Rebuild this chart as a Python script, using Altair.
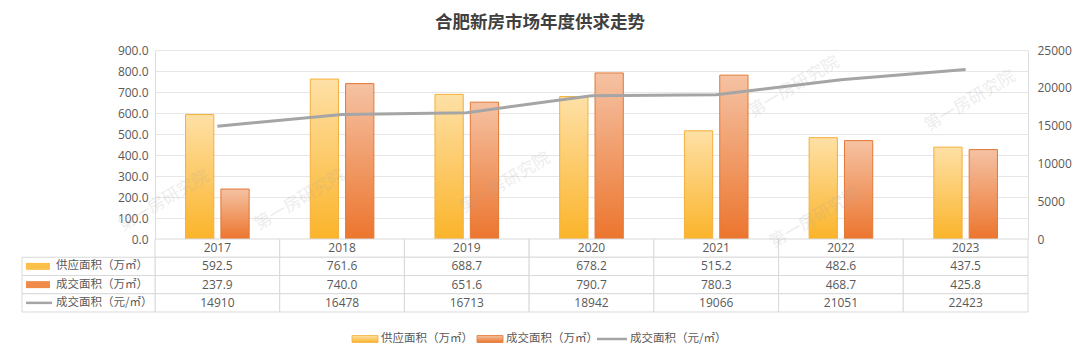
import altair as alt
import pandas as pd

# ---------------- data ----------------
years = ["2017", "2018", "2019", "2020", "2021", "2022", "2023"]
supply = [592.5, 761.6, 688.7, 678.2, 515.2, 482.6, 437.5]
deal = [237.9, 740.0, 651.6, 790.7, 780.3, 468.7, 425.8]
price = [14910, 16478, 16713, 18942, 19066, 21051, 22423]
series = ["供应面积（万㎡）", "成交面积（万㎡）", "成交面积（元/㎡）"]
title_text = "合肥新房市场年度供求走势"
watermark_text = "第一房研究院"
left_ticks = [0, 100, 200, 300, 400, 500, 600, 700, 800, 900]
right_ticks = [0, 5000, 10000, 15000, 20000, 25000]

# ---------------- style ----------------
W, H = 873, 189
FONT = "Open Sans, Noto Sans CJK SC"
CJK = "Noto Sans CJK SC"
TXT = "#595959"
BORDER = "#D9D9D9"
LINE_C = "#A5A5A5"

grad_supply = alt.LinearGradient(
    gradient="linear", x1=0, y1=0, x2=0, y2=1,
    stops=[alt.GradientStop(color="#FEE0A6", offset=0),
           alt.GradientStop(color="#FBB42A", offset=1)])
grad_deal = alt.LinearGradient(
    gradient="linear", x1=0, y1=0, x2=0, y2=1,
    stops=[alt.GradientStop(color="#F5C2A3", offset=0),
           alt.GradientStop(color="#EC752E", offset=1)])

# ---------------- bars ----------------
supply_df = pd.DataFrame({"year": years, "series": series[0], "value": supply})
deal_df = pd.DataFrame({"year": years, "series": series[1], "value": deal})

x_bar = alt.X("year:N", sort=years, axis=None,
              scale=alt.Scale(domain=years, paddingInner=0.49, paddingOuter=0.245))
xoff = alt.XOffset("series:N", sort=series[:2],
                   scale=alt.Scale(domain=series[:2], paddingInner=0.2))
y_axis = alt.Axis(values=left_ticks, format=".1f", orient="left", grid=True,
                  gridColor="#E6E6E6", domain=False, ticks=False, labelPadding=7,
                  labelColor=TXT, labelFontSize=12, labelFont=FONT, title=None)
y_bar = alt.Y("value:Q", scale=alt.Scale(domain=[0, 900], nice=False), axis=y_axis)

bar_supply = alt.Chart(supply_df).mark_bar(
    fill=grad_supply, stroke="#F3B03C", strokeWidth=1).encode(x=x_bar, xOffset=xoff, y=y_bar)
bar_deal = alt.Chart(deal_df).mark_bar(
    fill=grad_deal, stroke="#E27936", strokeWidth=1).encode(x=x_bar, xOffset=xoff, y=y_bar)
bars = alt.layer(bar_supply, bar_deal)

# ---------------- line ----------------
line_df = pd.DataFrame({"year": years, "price": price})
line = alt.Chart(line_df).mark_line(color=LINE_C, strokeWidth=3).encode(
    x=alt.X("year:N", sort=years, axis=None,
            scale=alt.Scale(type="point", domain=years, padding=0.5)),
    y=alt.Y("price:Q", scale=alt.Scale(domain=[0, 25000], nice=False),
            axis=alt.Axis(orient="right", values=right_ticks, format="d", grid=False,
                          domain=False, ticks=False, labelPadding=9, labelColor=TXT,
                          labelFontSize=12, labelFont=FONT, title=None)))

# ---------------- data table ----------------
rows = ["年份"] + series
cells = []
for i, yr in enumerate(years):
    cells.append({"row": rows[0], "year": yr, "txt": yr})
    cells.append({"row": rows[1], "year": yr, "txt": f"{supply[i]:.1f}"})
    cells.append({"row": rows[2], "year": yr, "txt": f"{deal[i]:.1f}"})
    cells.append({"row": rows[3], "year": yr, "txt": f"{price[i]:d}"})
cells_df = pd.DataFrame(cells)

tx = alt.X("year:N", sort=years, axis=None,
           scale=alt.Scale(domain=years, paddingInner=0, paddingOuter=0))
ty = alt.Y("row:N", sort=rows, axis=None,
           scale=alt.Scale(domain=rows, range=[189, 262], paddingInner=0, paddingOuter=0))
tx_c = alt.X("year:N", sort=years, axis=None, bandPosition=0.5,
             scale=alt.Scale(domain=years, paddingInner=0, paddingOuter=0))
ty_c = alt.Y("row:N", sort=rows, axis=None, bandPosition=0.5,
             scale=alt.Scale(domain=rows, range=[189, 262], paddingInner=0, paddingOuter=0))

cell_rect = alt.Chart(cells_df).mark_rect(fill="white", stroke=BORDER, strokeWidth=1).encode(x=tx, y=ty)
cell_text = alt.Chart(cells_df).mark_text(font=FONT, fontSize=12, color=TXT, baseline="middle").encode(
    x=tx_c, y=ty_c, text="txt:N")

label_df = pd.DataFrame({"row": series})
label_rect = alt.Chart(label_df).mark_rect(fill="white", stroke=BORDER, strokeWidth=1).encode(
    x=alt.value(-133), x2=alt.value(0), y=ty)
label_text = alt.Chart(label_df).mark_text(font=CJK, fontSize=11.5, color=TXT, align="left",
                                           baseline="middle").encode(
    x=alt.value(-99), y=ty_c, text="row:N")
sym1 = alt.Chart(pd.DataFrame({"row": [series[0]]})).mark_rule(
    color="#FCBF4A", strokeWidth=7, strokeCap="butt").encode(
    x=alt.value(-129), x2=alt.value(-105), y=ty_c)
sym2 = alt.Chart(pd.DataFrame({"row": [series[1]]})).mark_rule(
    color="#EF8A48", strokeWidth=7, strokeCap="butt").encode(
    x=alt.value(-129), x2=alt.value(-105), y=ty_c)
sym3 = alt.Chart(pd.DataFrame({"row": [series[2]]})).mark_rule(
    color=LINE_C, strokeWidth=2.5, strokeCap="butt").encode(
    x=alt.value(-129), x2=alt.value(-103), y=ty_c)

table = alt.layer(cell_rect, cell_text, label_rect, label_text, sym1, sym2, sym3)

# ---------------- legend ----------------
LY = 289
leg_layers = []
leg_pos = [(197, 223, 226), (322, 348, 351), (442, 472, 475)]
for i, (a, b, t) in enumerate(leg_pos):
    d = pd.DataFrame({"label": [series[i]]})
    if i < 2:
        sym = alt.Chart(d).mark_rect(fill=[grad_supply, grad_deal][i],
                                     stroke=["#F3B03C", "#E27936"][i], strokeWidth=0.8).encode(
            x=alt.value(a), x2=alt.value(b), y=alt.value(LY - 3.5), y2=alt.value(LY + 3.5))
    else:
        sym = alt.Chart(d).mark_rule(color=LINE_C, strokeWidth=2.5).encode(
            x=alt.value(a), x2=alt.value(b), y=alt.value(LY))
    txt = alt.Chart(d).mark_text(font=CJK, fontSize=11.5, color=TXT, align="left",
                                 baseline="middle").encode(
        x=alt.value(t), y=alt.value(LY), text="label:N")
    leg_layers += [sym, txt]

# ---------------- watermarks ----------------
wm_pos = [(9, 151), (145, 150), (350, 133), (639, 37), (815, 51), (660, 168)]
wm_layers = []
for (px, py) in wm_pos:
    wm_layers.append(
        alt.Chart(pd.DataFrame({"t": [watermark_text]})).mark_text(
            font=CJK, fontSize=17, color="#A8A8A8", opacity=0.2, angle=329,
            align="center", baseline="middle").encode(
            x=alt.value(px), y=alt.value(py), text="t:N"))

chart = alt.layer(bars, line, table, *leg_layers, *wm_layers).resolve_scale(
    x="independent", y="independent"
).properties(
    width=W, height=H,
    title=alt.TitleParams(text=title_text, font=CJK, fontSize=17.5, fontWeight="bold",
                          color="#404040", anchor="middle", dx=-51.5, offset=13),
    padding={"left": 147, "top": 42, "right": 44, "bottom": 112},
    autosize=alt.AutoSizeParams(type="none"),
).configure_view(stroke=None).configure(background="white")

chart.save("out.html", embed_options={"renderer": "svg", "actions": False})
